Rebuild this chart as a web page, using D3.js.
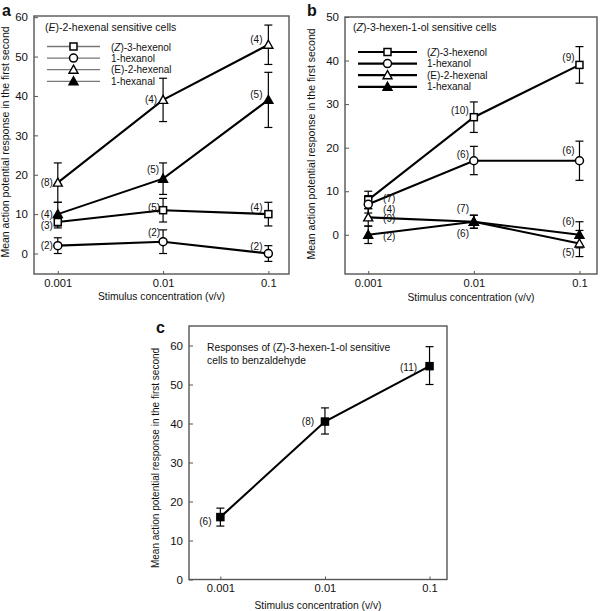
<!DOCTYPE html>
<html><head><meta charset="utf-8">
<script src="https://cdn.jsdelivr.net/npm/d3@7"></script>
<style>
body{margin:0;background:#fff;}
svg text{font-family:"Liberation Sans",Arial,sans-serif;fill:#111;}
</style></head>
<body><svg id="c" width="602" height="611"></svg>
<script>
// ---------- DATA ----------
const concentrations = [0.001, 0.01, 0.1];
const concentrationLabels = ["0.001", "0.01", "0.1"];
const seriesNames = ["(Z)-3-hexenol", "1-hexanol", "(E)-2-hexenal", "1-hexanal"];

// Panel a: (E)-2-hexenal sensitive cells
const aZ3hexenol = [8, 11, 10];
const aZ3hexenolLo = [6.5, 8, 7];
const aZ3hexenolHi = [9.5, 14, 13];
const aZ3hexenolN = ["(3)", "(5)", "(4)"];
const aHexanol = [2, 3, 0];
const aHexanolLo = [0, 0, -2];
const aHexanolHi = [4, 6, 2];
const aHexanolN = ["(2)", "(2)", "(2)"];
const aE2hexenal = [18, 39, 53];
const aE2hexenalLo = [13, 33.5, 48];
const aE2hexenalHi = [23, 44.5, 58];
const aE2hexenalN = ["(8)", "(4)", "(4)"];
const aHexanal = [10, 19, 39];
const aHexanalLo = [7, 15, 32];
const aHexanalHi = [13, 23, 46];
const aHexanalN = ["(4)", "(5)", "(5)"];
const aYTicks = [0, 10, 20, 30, 40, 50, 60];

// Panel b: (Z)-3-hexen-1-ol sensitive cells
const bZ3hexenol = [8, 27, 39];
const bZ3hexenolLo = [6, 23.5, 34.8];
const bZ3hexenolHi = [10, 30.5, 43.2];
const bZ3hexenolN = ["(7)", "(10)", "(9)"];
const bHexanol = [7, 17, 17];
const bHexanolLo = [5, 13.8, 12.5];
const bHexanolHi = [9, 20.3, 21.5];
const bHexanolN = ["(4)", "(6)", "(6)"];
const bE2hexenal = [4, 3, -2];
const bE2hexenalLo = [2, 1.5, -5];
const bE2hexenalHi = [6, 4.5, 1];
const bE2hexenalN = ["(9)", "(7)", "(5)"];
const bHexanal = [0, 3, 0];
const bHexanalLo = [-2, 1.5, -3];
const bHexanalHi = [2, 4.5, 3];
const bHexanalN = ["(2)", "(6)", "(6)"];
const bYTicks = [0, 10, 20, 30, 40, 50];

// Panel c: (Z)-3-hexen-1-ol sensitive cells to benzaldehyde
const cBenzaldehyde = [16, 40.5, 54.7];
const cBenzaldehydeLo = [13.7, 37.3, 50];
const cBenzaldehydeHi = [18.3, 44, 59.7];
const cBenzaldehydeN = ["(6)", "(8)", "(11)"];
const cYTicks = [0, 10, 20, 30, 40, 50, 60];

// ---------- DRAWING ----------
const svg = d3.select("#c");
const markerShapes = ["square", "circle", "triangle", "filledTriangle"];

function drawMarker(g, shape, x, y) {
  if (shape === "square" || shape === "filledSquare") {
    g.append("rect").attr("x", x - 3.5).attr("y", y - 3.5).attr("width", 7).attr("height", 7)
      .attr("fill", shape === "square" ? "#fff" : "#000").attr("stroke", "#000").attr("stroke-width", 1.5);
  } else if (shape === "circle") {
    g.append("circle").attr("cx", x).attr("cy", y).attr("r", 4)
      .attr("fill", "#fff").attr("stroke", "#000").attr("stroke-width", 1.5);
  } else {
    const s = 4.5;
    g.append("path").attr("d", `M${x},${y - s}L${x + s},${y + s - 1}L${x - s},${y + s - 1}Z`)
      .attr("fill", shape === "triangle" ? "#fff" : "#000").attr("stroke", "#000").attr("stroke-width", 1.4)
      .attr("stroke-linejoin", "miter");
  }
}

function panel(cfg) {
  const x = d3.scaleLog().domain(cfg.xDomain).range([cfg.left, cfg.right]);
  const y = d3.scaleLinear().domain(cfg.yDomain).range([cfg.bottom, cfg.top]);
  const g = svg.append("g");

  // frame
  g.append("rect").attr("x", cfg.left).attr("y", cfg.top)
    .attr("width", cfg.right - cfg.left).attr("height", cfg.bottom - cfg.top)
    .attr("fill", "none").attr("stroke", "#555").attr("stroke-width", 1.4);

  // y axis (inward ticks)
  const yAxis = d3.axisLeft(y).tickValues(cfg.yTicks).tickSize(-4).tickPadding(6).tickFormat(d3.format("d"));
  const ya = g.append("g").attr("transform", `translate(${cfg.left},0)`).call(yAxis);
  ya.select(".domain").remove();
  ya.selectAll(".tick line").attr("stroke", "#555");
  ya.selectAll(".tick text").attr("font-size", 11.5).attr("font-family", "Liberation Sans, Arial, sans-serif").attr("fill", "#111");

  // x axis
  const xAxis = d3.axisBottom(x).tickValues(concentrations).tickSize(-3).tickPadding(5)
    .tickFormat((d, i) => concentrationLabels[i]);
  const xa = g.append("g").attr("transform", `translate(0,${cfg.bottom})`).call(xAxis);
  xa.select(".domain").remove();
  xa.selectAll(".tick line").attr("stroke", "#555");
  xa.selectAll(".tick text").attr("font-size", 11.2).attr("font-family", "Liberation Sans, Arial, sans-serif").attr("fill", "#111");

  // axis titles
  g.append("text").attr("x", (cfg.left + cfg.right) / 2 + cfg.xTitleDx).attr("y", cfg.bottom + cfg.xTitleDy)
    .attr("text-anchor", "middle").attr("font-size", 10.3).text("Stimulus concentration (v/v)");
  g.append("text").attr("transform", `translate(${cfg.yTitleX},${cfg.yTitleY}) rotate(-90)`)
    .attr("text-anchor", "middle").attr("font-size", cfg.yTitleSize).text("Mean action potential response in the first second");

  // panel letter
  g.append("text").attr("x", cfg.letterX).attr("y", cfg.letterY).attr("font-size", 16)
    .attr("font-weight", "bold").text(cfg.letter);

  // series
  cfg.series.forEach((s, si) => {
    const line = d3.line().x((d, i) => x(concentrations[i])).y(d => y(d));
    g.append("path").datum(s.values).attr("d", line).attr("fill", "none")
      .attr("stroke", "#000").attr("stroke-width", 2.1);
  });
  cfg.series.forEach((s, si) => {
    s.values.forEach((v, i) => {
      const cx = x(concentrations[i]);
      const y0 = y(s.lo[i]), y1 = y(s.hi[i]);
      g.append("line").attr("x1", cx).attr("x2", cx).attr("y1", y0).attr("y2", y1).attr("stroke", "#000").attr("stroke-width", 1.2);
      [y0, y1].forEach(yy => g.append("line").attr("x1", cx - 4).attr("x2", cx + 4).attr("y1", yy).attr("y2", yy)
        .attr("stroke", "#000").attr("stroke-width", 1.2));
    });
  });
  cfg.series.forEach((s, si) => {
    s.values.forEach((v, i) => drawMarker(g, s.shape, x(concentrations[i]), y(v)));
  });
  // n labels
  cfg.series.forEach((s, si) => {
    s.n.forEach((t, i) => {
      const off = cfg.labelOffsets[si][i];
      g.append("text").attr("x", x(concentrations[i]) + off[0]).attr("y", y(s.values[i]) + off[1])
        .attr("text-anchor", "middle").attr("dominant-baseline", "central").attr("font-size", 10).text(t);
    });
  });
  return g;
}

function legend(g, ly, rowH, x0, x1, tx, lineColor, lineWidth) {
  seriesNames.forEach((name, i) => {
    const yy = ly + i * rowH;
    g.append("line").attr("x1", x0).attr("x2", x1).attr("y1", yy).attr("y2", yy)
      .attr("stroke", lineColor).attr("stroke-width", lineWidth);
    drawMarker(g, markerShapes[i], (x0 + x1) / 2, yy);
    const t = g.append("text").attr("x", tx).attr("y", yy).attr("dominant-baseline", "central").attr("font-size", 10);
    if (i === 0) {
      t.append("tspan").text("(");
      t.append("tspan").attr("font-style", "italic").text("Z");
      t.append("tspan").text(")-3-hexenol");
    } else t.text(name);
  });
}

// Panel a
const ga = panel({
  letter: "a", letterX: 2, letterY: 16,
  left: 34, right: 289, top: 16, bottom: 274,
  xDomain: [0.001 / Math.pow(10, 0.226), 0.1 * Math.pow(10, 0.196)],
  yDomain: [-5.2, 60.3], yTicks: aYTicks, yTitleX: 9, yTitleY: 142, yTitleSize: 10.5,
  xTitleDx: 0, xTitleDy: 26,
  series: [
    {values: aZ3hexenol, lo: aZ3hexenolLo, hi: aZ3hexenolHi, n: aZ3hexenolN, shape: "square"},
    {values: aHexanol, lo: aHexanolLo, hi: aHexanolHi, n: aHexanolN, shape: "circle"},
    {values: aE2hexenal, lo: aE2hexenalLo, hi: aE2hexenalHi, n: aE2hexenalN, shape: "triangle"},
    {values: aHexanal, lo: aHexanalLo, hi: aHexanalHi, n: aHexanalN, shape: "filledTriangle"}
  ],
  labelOffsets: [
    [[-11, 3], [-9, -3], [-12, -7]],
    [[-11, 0], [-9, -9], [-12, -7]],
    [[-11, 0], [-12, 0], [-12, -5]],
    [[-11, 0], [-10, -9], [-12, -5]]
  ]
});
{
  const t = ga.append("text").attr("x", 45).attr("y", 31).attr("font-size", 10.5);
  t.append("tspan").text("(");
  t.append("tspan").attr("font-style", "italic").text("E");
  t.append("tspan").text(")-2-hexenal sensitive cells");
  legend(ga, 46.5, 11.6, 47, 100, 111, "#777", 1.3);
}

// Panel b
const gb = panel({
  letter: "b", letterX: 307, letterY: 16,
  left: 345, right: 597, top: 17, bottom: 274,
  xDomain: [0.001 / Math.pow(10, 0.22), 0.1 * Math.pow(10, 0.166)],
  yDomain: [-9, 50], yTicks: bYTicks, yTitleX: 315, yTitleY: 144, yTitleSize: 10.5,
  xTitleDx: 0, xTitleDy: 27,
  series: [
    {values: bZ3hexenol, lo: bZ3hexenolLo, hi: bZ3hexenolHi, n: bZ3hexenolN, shape: "square"},
    {values: bHexanol, lo: bHexanolLo, hi: bHexanolHi, n: bHexanolN, shape: "circle"},
    {values: bE2hexenal, lo: bE2hexenalLo, hi: bE2hexenalHi, n: bE2hexenalN, shape: "triangle"},
    {values: bHexanal, lo: bHexanalLo, hi: bHexanalHi, n: bHexanalN, shape: "filledTriangle"}
  ],
  labelOffsets: [
    [[21, -1.5], [-14, -7], [-11, -7]],
    [[21, 5], [-11, -6], [-11, -10]],
    [[21, 1.5], [-11, -13], [-11, 9]],
    [[21, 2], [-11, 12], [-11, -13]]
  ]
});
{
  const t = gb.append("text").attr("x", 353).attr("y", 31).attr("font-size", 10.5);
  t.append("tspan").text("(");
  t.append("tspan").attr("font-style", "italic").text("Z");
  t.append("tspan").text(")-3-hexen-1-ol sensitive cells");
  legend(gb, 52, 11.6, 358, 417, 427, "#000", 2.2);
}

// Panel c
const gc = panel({
  letter: "c", letterX: 156, letterY: 333,
  left: 189, right: 447, top: 326, bottom: 579.5,
  xDomain: [0.001 / Math.pow(10, 0.3), 0.1 * Math.pow(10, 0.167)],
  yDomain: [0, 65], yTicks: cYTicks, yTitleX: 159, yTitleY: 458, yTitleSize: 10,
  xTitleDx: 0, xTitleDy: 29,
  series: [
    {values: cBenzaldehyde, lo: cBenzaldehydeLo, hi: cBenzaldehydeHi, n: cBenzaldehydeN, shape: "filledSquare"}
  ],
  labelOffsets: [
    [[-15, 4], [-17, 0], [-21, 1]]
  ]
});
gc.append("text").attr("x", 207).attr("y", 351).attr("font-size", 10.3).text("Responses of (Z)-3-hexen-1-ol sensitive");
gc.append("text").attr("x", 207).attr("y", 364).attr("font-size", 10.3).text("cells to benzaldehyde");
</script>
</body></html>
